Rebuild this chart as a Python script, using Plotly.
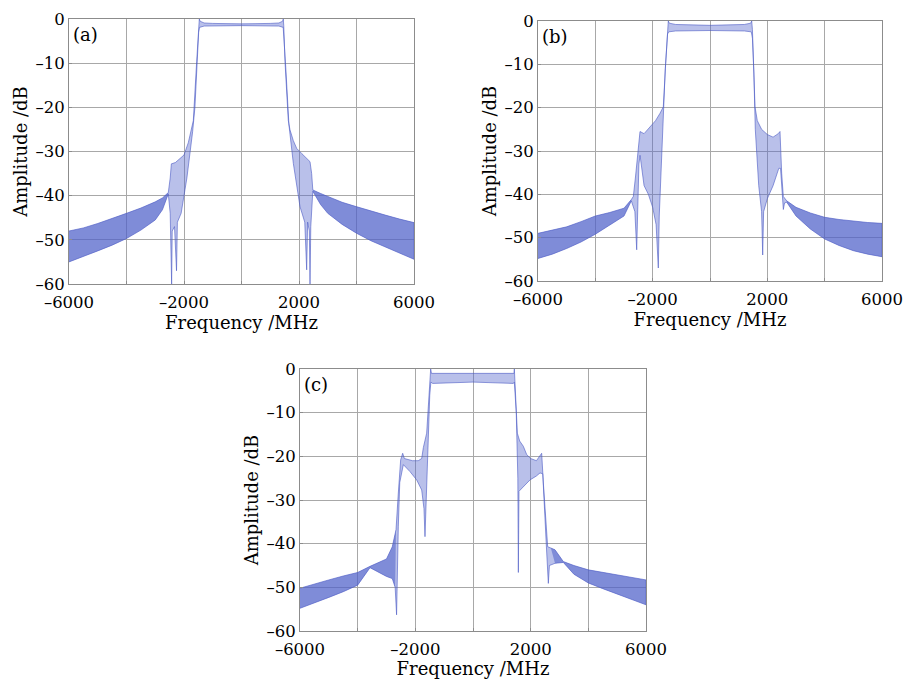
import plotly.graph_objects as go

# ---------------- data ----------------
# Panel (a): upper / lower envelope of the dense spectrum, frequency in MHz, amplitude in dB
a_up_f = [-6000, -5500, -5000, -4500, -4000, -3500, -3000, -2750, -2546, -2480, -2440, -2300,
          -2100, -2000, -1850, -1730, -1676, -1560, -1490, -1468, -1440, -1300, -1000, 0,
          1000, 1300, 1430, 1454, 1470, 1513, 1628, 1687, 1800, 1920, 2100, 2300,
          2383, 2440, 2480, 2750, 3000, 3500, 4000, 4500, 5000, 5500, 6000]
a_up_db = [-48, -47.3, -46.3, -45.2, -44, -42.8, -41.4, -40.5, -39.3, -36, -32.8, -32.5,
           -31.5, -30.8, -28, -25, -23, -9.7, -1.5, 0, -0.5, -0.9, -1.0, -1.1,
           -1.0, -0.9, -0.5, 0, -1.5, -9.7, -23, -25.1, -27.5, -29.3, -30.5, -31.8,
           -32.3, -35, -38.7, -39.5, -40.2, -41.5, -42.5, -43.5, -44.4, -45.3, -46.1]
a_lo_f = [-6000, -5500, -5000, -4500, -4000, -3500, -3000, -2750, -2546, -2480, -2430, -2410,
          -2330, -2260, -2230, -2100, -2000, -1900, -1800, -1700, -1620, -1560, -1490, -1460,
          -1300, 0, 1300, 1450, 1480, 1540, 1650, 1803, 2035, 2200, 2267, 2300,
          2360, 2383, 2410, 2480, 2750, 3000, 3500, 4000, 4500, 5000, 5500, 6000]
a_lo_db = [-55, -53.8, -52.5, -51.2, -49.7, -47.8, -45.5, -43.2, -39.6, -44, -60, -48,
           -47, -57, -46, -44, -40, -36, -31, -25.5, -20, -11, -3, -1.9,
           -1.6, -1.5, -1.6, -1.9, -3, -11, -24, -32.7, -42.5, -46, -56.8, -46,
           -48, -60, -47, -39, -42, -44, -46.5, -48.5, -50.2, -51.5, -53, -54.4]
a_tails = [-2546, 2480]

# Panel (b)
b_up_f = [-6000, -5500, -5000, -4500, -4000, -3500, -3000, -2744, -2675, -2600, -2501, -2442,
          -2300, -2093, -1900, -1744, -1629, -1546, -1470, -1455, -1420, -1200, 0, 1200,
          1420, 1455, 1480, 1511, 1570, 1650, 1800, 2000, 2200, 2380, 2442, 2500,
          2558, 2676, 3000, 3500, 4000, 4500, 5000, 5500, 6000]
b_up_db = [-49, -48.3, -47.5, -46.3, -45, -44.2, -43.2, -41.2, -40.5, -36, -29.8, -25.5,
           -26, -24.5, -23, -21.3, -19.8, -9.8, -1.5, 0, -0.5, -0.8, -1.0, -0.8,
           -0.5, 0, -2, -9.8, -19.8, -23, -25, -26.2, -26.8, -26, -25.5, -35.1,
           -40.5, -41.5, -43, -44.3, -45.3, -45.8, -46.2, -46.5, -46.7]
b_lo_f = [-6000, -5500, -5000, -4500, -4000, -3500, -3000, -2744, -2620, -2557, -2530, -2480,
          -2440, -2300, -2150, -2000, -1880, -1803, -1770, -1686, -1629, -1560, -1480, -1440,
          -1200, 0, 1200, 1440, 1480, 1530, 1580, 1700, 1800, 1838, 1870, 2000,
          2200, 2400, 2460, 2520, 2558, 2600, 2676, 3000, 3500, 4000, 4500, 5000,
          5500, 6000]
b_lo_db = [-54.8, -53.8, -52.5, -51, -49.2, -47.2, -45, -41.5, -44, -52.8, -44, -33,
           -31, -38, -40, -43, -47, -57, -45, -31.3, -22, -11, -3, -2.5,
           -2.3, -2.2, -2.3, -2.5, -4, -12, -25, -38, -44, -54, -44, -41,
           -38, -34, -34, -40, -43.5, -42, -41.8, -45, -48, -50.3, -51.8, -53,
           -53.8, -54.4]
b_tails = [-2744, 2676]

# Panel (c)
c_up_f = [-6000, -5500, -5000, -4500, -4000, -3572, -3000, -2800, -2670, -2590, -2509, -2439,
          -2380, -2100, -1900, -1780, -1722, -1607, -1514, -1468, -1440, 0, 1420, 1434,
          1491, 1538, 1620, 1746, 1862, 2000, 2200, 2382, 2440, 2532, 2590, 2700,
          2844, 3133, 3500, 4000, 4500, 5000, 5500, 6000]
c_up_db = [-50.2, -49.2, -48.3, -47.4, -46.6, -45.2, -43.5, -40.7, -36.8, -28.4, -20.8, -19.3,
           -20.5, -21, -21, -20.5, -18, -14.7, -5.5, 0, -1.0, -1.0, -1.0, 0,
           -7, -14.7, -16.5, -17.7, -19.6, -20.5, -21, -19.3, -26.1, -35.3, -40.7, -41,
           -41.4, -44.1, -45, -46, -46.6, -47.2, -47.8, -48.3]
c_lo_f = [-6000, -5500, -5000, -4500, -4000, -3572, -3000, -2800, -2700, -2650, -2620, -2590,
          -2540, -2416, -2185, -1954, -1780, -1700, -1665, -1640, -1572, -1500, -1460, -1400,
          0, 1400, 1434, 1500, 1555, 1573, 1595, 1630, 1800, 1977, 2200, 2324,
          2420, 2450, 2540, 2613, 2650, 2844, 3133, 3500, 4000, 4500, 5000, 5500,
          6000]
c_lo_db = [-54.8, -53.5, -52.3, -51, -49.5, -45.5, -47.5, -48, -50, -56.3, -48, -36,
           -26, -21.9, -23.5, -25.4, -27.7, -32, -38.4, -30, -18.5, -6, -3, -3.3,
           -3.0, -3.3, -3, -10, -25, -46.6, -28, -27.7, -26.5, -25.4, -24.5, -23.8,
           -24, -30, -40, -49.1, -45, -44.5, -44.3, -47, -49, -50.3, -51.5, -52.8,
           -54]
c_tails = [-2660, 2700]

labels = ["(a)", "(b)", "(c)"]
x_ticks = [-6000, -4000, -2000, 0, 2000, 4000, 6000]
x_ticktext = ["\u20136000", "", "\u20132000", "", "2000", "", "6000"]
y_ticks = [-60, -50, -40, -30, -20, -10, 0]
y_ticktext = ["\u201360", "\u201350", "\u201340", "\u201330", "\u201320", "\u201310", "0"]
x_title = "Frequency /MHz"
y_title = "Amplitude /dB"

# ---------------- figure ----------------
FONT = "DejaVu Serif"
LINE = "rgba(72,88,196,0.85)"
FILL_LIGHT = "rgba(88,104,204,0.42)"
FILL_DARK = "rgba(80,96,200,0.55)"

# the page body margin is removed below, so the figure fills the 904x679 window
W, H, OFF = 904, 679, 0


def dom(x0, x1, y0, y1):
    return ([(x0 - OFF) / W, (x1 - OFF) / W], [1 - (y1 - OFF) / H, 1 - (y0 - OFF) / H])


panels = [
    (a_up_f, a_up_db, a_lo_f, a_lo_db, a_tails),
    (b_up_f, b_up_db, b_lo_f, b_lo_db, b_tails),
    (c_up_f, c_up_db, c_lo_f, c_lo_db, c_tails),
]
domains = [dom(69, 414, 19, 284), dom(538, 882, 21, 281), dom(300, 646, 369, 631)]

fig = go.Figure()
for i, (uf, ud, lf, ld, tails) in enumerate(panels):
    xa = "x" if i == 0 else f"x{i+1}"
    ya = "y" if i == 0 else f"y{i+1}"
    # whole band
    fig.add_trace(go.Scatter(
        x=list(uf) + list(lf)[::-1], y=list(ud) + list(ld)[::-1],
        fill="toself", fillcolor=FILL_LIGHT, mode="lines",
        line=dict(color=LINE, width=0.7), xaxis=xa, yaxis=ya,
        showlegend=False, hoverinfo="skip"))
    # denser far tails
    for side in (0, 1):
        if side == 0:
            sel_u = [(f, d) for f, d in zip(uf, ud) if f <= tails[0]]
            sel_l = [(f, d) for f, d in zip(lf, ld) if f <= tails[0]]
        else:
            sel_u = [(f, d) for f, d in zip(uf, ud) if f >= tails[1]]
            sel_l = [(f, d) for f, d in zip(lf, ld) if f >= tails[1]]
        px = [p[0] for p in sel_u] + [p[0] for p in sel_l][::-1]
        py = [p[1] for p in sel_u] + [p[1] for p in sel_l][::-1]
        fig.add_trace(go.Scatter(
            x=px, y=py, fill="toself", fillcolor=FILL_DARK, mode="lines",
            line=dict(color="rgba(0,0,0,0)", width=0), xaxis=xa, yaxis=ya,
            showlegend=False, hoverinfo="skip"))

    axis_common = dict(showline=True, linecolor="#8c8c8c", linewidth=1, mirror=True,
                       showgrid=True, gridcolor="#a8a8a8", gridwidth=1, zeroline=False,
                       ticks="inside", ticklen=3, tickcolor="#8c8c8c", automargin=False,
                       tickfont=dict(family=FONT, size=16.5, color="black"))
    xkey = "xaxis" if i == 0 else f"xaxis{i+1}"
    ykey = "yaxis" if i == 0 else f"yaxis{i+1}"
    fig.update_layout(**{
        xkey: dict(domain=domains[i][0], anchor=ya, range=[-6000, 6000],
                   tickvals=x_ticks, ticktext=x_ticktext, ticklabelstandoff=3,
                   title=dict(text=x_title, font=dict(family=FONT, size=18, color="black"),
                              standoff=0), **axis_common),
        ykey: dict(domain=domains[i][1], anchor=xa, range=[-60, 0], tickvals=y_ticks,
                   ticktext=y_ticktext,
                   title=dict(text=y_title, font=dict(family=FONT, size=18, color="black"),
                              standoff=3), **axis_common),
    })
    fig.add_annotation(text=labels[i], xref=f"{xa} domain", yref=f"{ya} domain",
                       x=0.005, y=0.99, xanchor="left", yanchor="top", showarrow=False,
                       font=dict(family=FONT, size=18, color="black"))

fig.update_layout(width=W, height=H, margin=dict(l=0, r=0, t=0, b=0),
                  paper_bgcolor="white", plot_bgcolor="white")
fig.write_html("out.html", config={"displayModeBar": False},
               post_script="document.body.style.margin='0';"
                           "document.body.style.overflow='hidden';")
